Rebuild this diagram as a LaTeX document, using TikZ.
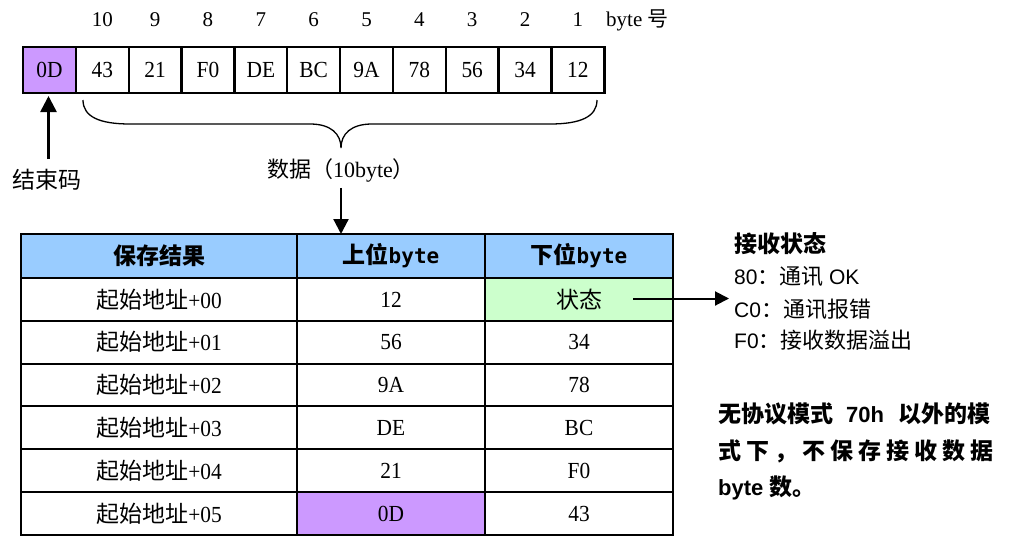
\documentclass[tikz,border=0pt]{standalone}
\usepackage{fontspec}
\setmainfont{Liberation Serif}
\newfontfamily\cjk{Noto Sans CJK SC}
\newfontfamily\numf{Liberation Serif}[FakeStretch=0.93]
\newfontfamily\monof{DejaVu Sans Mono}
\newfontfamily\sansf{Liberation Sans}
\usetikzlibrary{arrows.meta}
\definecolor{hdrblue}{HTML}{99CCFF}
\definecolor{endpurple}{HTML}{CC99FF}
\definecolor{stgreen}{HTML}{CCFFCC}
\tikzset{
  cellbox/.style={draw=black, line width=2.2pt, inner sep=0pt, outer sep=0pt,
    minimum width=53pt, minimum height=46pt, font=\numf\fontsize{23}{26}\selectfont},
  numlabel/.style={inner sep=0pt, font=\fontsize{21}{24}\selectfont},
  tcell/.style={draw=black, line width=2pt, inner sep=0pt, outer sep=0pt,
    minimum height=42.83pt, font=\numf\fontsize{23}{26}\selectfont},
  colA/.style={minimum width=276pt},
  colB/.style={minimum width=188pt},
  hdr/.style={fill=hdrblue, minimum height=44pt, font=\cjk\bfseries\fontsize{23}{26}\selectfont},
  arr/.style={line width=2.2pt, -{Triangle[width=15pt,length=15pt]}},
  rtext/.style={anchor=west, inner sep=0pt, font=\fontsize{22}{26}\selectfont},
  ptext/.style={anchor=west, inner sep=0pt, font=\bfseries\fontsize{23}{26}\selectfont},
}
\newcommand{\addr}[1]{{\cjk 起始地址}+#1}
\begin{document}
\begin{tikzpicture}[x=1pt,y=-1pt]
\useasboundingbox (0,0) rectangle (1012,536);
% top byte row
\foreach \v [count=\i from 0] in {0D,43,21,F0,DE,BC,9A,78,56,34,12}
  \node[cellbox] (b\i) at ({23+52.85*(\i+0.5)},70) {\v};
\node[cellbox, fill=endpurple] (b0) at ({23+52.85*0.5},70) {0D};
\foreach \n [count=\i] in {10,9,8,7,6,5,4,3,2,1}
  \node[numlabel] (n\i) at ({23+52.85*(\i+0.5)},20) {\n};
\node[numlabel, anchor=west] (bytenum) at (606,20) {byte {\cjk 号}};
% end code
\node[inner sep=0pt, font=\cjk\fontsize{23}{26}\selectfont] (jsm) at (47,180) {结束码};
\draw[arr, line width=2.6pt, -{Triangle[width=16pt,length=16pt]}, shorten >=3pt] (jsm) ++(1.5,-21) -- (b0.south -| 48.5,0);
% brace
\draw[line width=1.3pt] (83,100) .. controls (83,117) and (100,124) .. (130,124)
  -- (310,124) .. controls (331,124) and (341,134) .. (341,148)
  .. controls (341,134) and (351,124) .. (372,124)
  -- (550,124) .. controls (580,124) and (597,117) .. (597,100);
\node[inner sep=0pt, font=\fontsize{22}{26}\selectfont] (dl) at (341,170) {{\cjk 数据（}10byte{\cjk ）}};
% table
\node[tcell, colA, hdr] (h0) at (159,256) {保存结果};
\node[tcell, colB, hdr] (h1) at (391,256) {上位{\monof\fontsize{21}{24}\selectfont byte}};
\node[tcell, colB, hdr] (h2) at (579,256) {下位{\monof\fontsize{21}{24}\selectfont byte}};
\draw[arr, shorten <=6pt] (dl.south) -- (dl.south |- h1.north);
\foreach \a/\hi/\lo [count=\r from 0] in {00/12/{\cjk 状态},01/56/34,02/9A/78,03/DE/BC,04/21/F0,05/0D/43} {
  \node[tcell, colA] (r\r c0) at (159,{299.4+42.83*\r}) {\addr{\a}};
  \node[tcell, colB] (r\r c1) at (391,{299.4+42.83*\r}) {\hi};
  \node[tcell, colB] (r\r c2) at (579,{299.4+42.83*\r}) {\lo};
}
\node[tcell, colB, fill=stgreen] (r0c2) at (579,299.4) {{\cjk 状态}};
\node[tcell, colB, fill=endpurple] (r5c1) at (391,{299.4+42.83*5}) {0D};
% receive status
\coordinate (stout) at (633,298.5);
\coordinate (stin) at (729,298.5);
\draw[arr, line width=2pt, -{Triangle[width=14pt,length=14pt]}] (stout) -- (stin);
\node[rtext, font=\cjk\bfseries\fontsize{23}{26}\selectfont] (rs) at (734,244) {接收状态};
\node[rtext] (s80) at (734,277) {{\sansf\fontsize{21}{26}\selectfont 80}{\cjk ：通讯} {\sansf\fontsize{21}{26}\selectfont OK}};
\node[rtext] (sc0) at (734,309) {{\sansf\fontsize{21}{26}\selectfont C0}{\cjk ：通讯报错}};
\node[rtext] (sf0) at (734,340) {{\sansf\fontsize{21}{26}\selectfont F0}{\cjk ：接收数据溢出}};
% note
\node[ptext] (p1) at (718,414) {{\cjk\bfseries 无协议模式}\hspace{13pt}{\sansf\bfseries\fontsize{22}{26}\selectfont 70h}\hspace{14pt}{\cjk\bfseries 以外的模}};
\node[ptext] (p2) at (718,451) {\makebox[275pt][s]{\cjk\bfseries 式\hfil 下\hfil ，\hfil 不\hfil 保\hfil 存\hfil 接\hfil 收\hfil 数\hfil 据}};
\node[ptext] (p3) at (718,488) {{\sansf\bfseries\fontsize{22}{26}\selectfont byte} {\cjk\bfseries 数。}};
\end{tikzpicture}
\end{document}
